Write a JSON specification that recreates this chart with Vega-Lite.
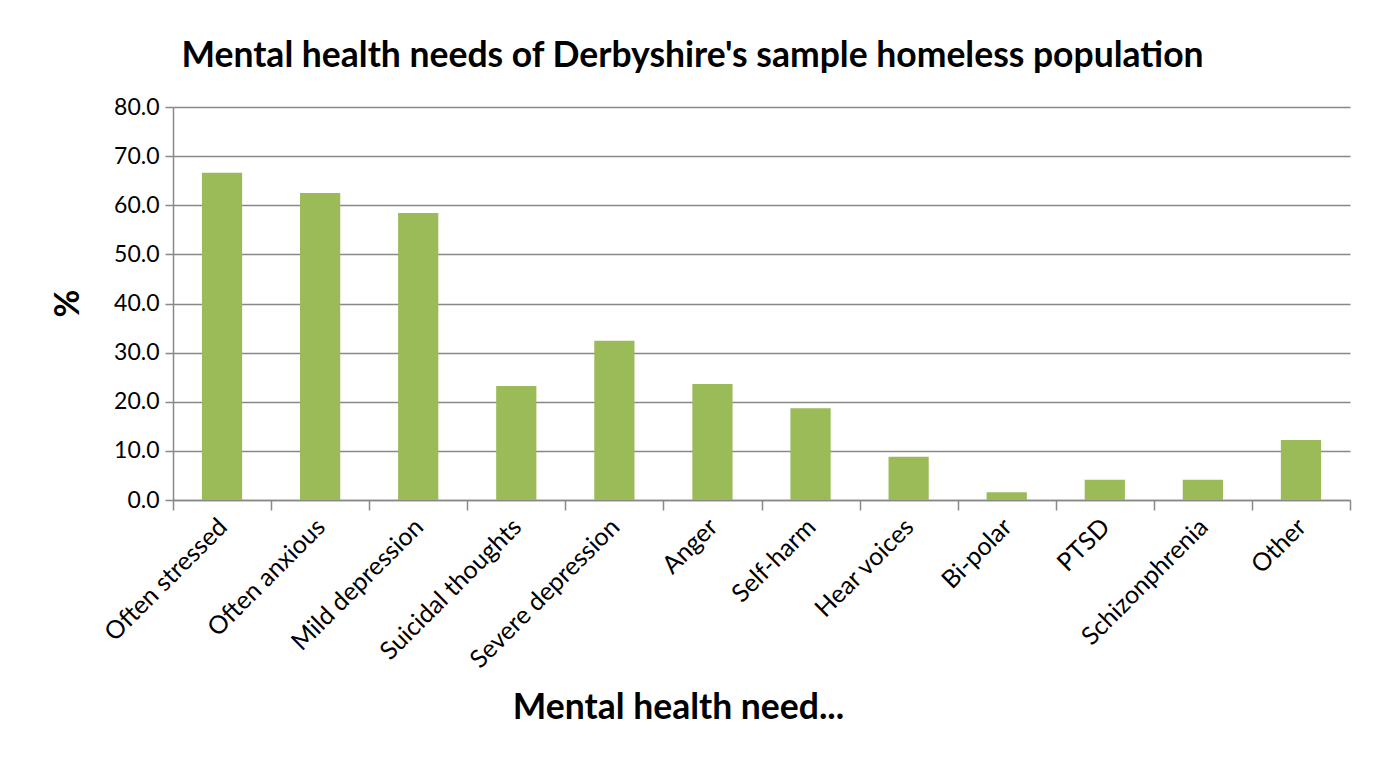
{
  "$schema": "https://vega.github.io/schema/vega-lite/v6.json",
  "width": 1177,
  "height": 393,
  "autosize": {"type": "none"},
  "padding": {"left": 173, "top": 107, "right": 33, "bottom": 262},
  "background": "white",
  "config": {"view": {"stroke": null}, "font": "Lato"},
  "title": {
    "text": "Mental health needs of  Derbyshire's sample homeless population",
    "font": "Lato",
    "fontSize": 35.5,
    "fontWeight": "bold",
    "color": "black",
    "anchor": "middle",
    "dx": -69,
    "offset": 22
  },
  "data": {
    "values": [
      {"need": "Often stressed", "pct": 66.6},
      {"need": "Often anxious", "pct": 62.5},
      {"need": "Mild depression", "pct": 58.4},
      {"need": "Suicidal thoughts", "pct": 23.2},
      {"need": "Severe depression", "pct": 32.4},
      {"need": "Anger", "pct": 23.6},
      {"need": "Self-harm", "pct": 18.7},
      {"need": "Hear voices", "pct": 8.8},
      {"need": "Bi-polar", "pct": 1.6},
      {"need": "PTSD", "pct": 4.1},
      {"need": "Schizonphrenia", "pct": 4.1},
      {"need": "Other", "pct": 12.2}
    ]
  },
  "mark": {"type": "bar", "color": "#9BBB59", "width": {"band": 0.41}},
  "encoding": {
    "x": {
      "field": "need",
      "type": "nominal",
      "sort": null,
      "scale": {"paddingInner": 0, "paddingOuter": 0},
      "axis": {
        "title": "Mental health need...",
        "titleFont": "Lato",
        "titleFontSize": 35.5,
        "titleFontWeight": "bold",
        "titleColor": "black",
        "titleX": 505,
        "titleY": 218,
        "titleBaseline": "alphabetic",
        "labelAngle": -45,
        "labelFont": "Lato",
        "labelFontSize": 25,
        "labelColor": "black",
        "labelPadding": 4,
        "labelOffset": -8,
        "labelLimit": 0,
        "tickBand": "extent",
        "ticks": true,
        "tickSize": 10,
        "tickColor": "#888888",
        "tickWidth": 1.5,
        "domainColor": "#888888",
        "domainWidth": 1.5,
        "grid": false
      }
    },
    "y": {
      "field": "pct",
      "type": "quantitative",
      "scale": {"domain": [0, 80], "nice": false},
      "axis": {
        "title": "%",
        "titleFont": "Lato",
        "titleFontSize": 34,
        "titleFontWeight": "bold",
        "titleColor": "black",
        "titleX": -105,
        "titleY": 196,
        "titleAlign": "center",
        "titleBaseline": "middle",
        "format": ".1f",
        "values": [0, 10, 20, 30, 40, 50, 60, 70, 80],
        "labelFont": "Lato",
        "labelFontSize": 23,
        "labelColor": "black",
        "labelPadding": 6,
        "tickSize": 8,
        "tickColor": "#888888",
        "tickWidth": 1.5,
        "domainColor": "#888888",
        "domainWidth": 1.5,
        "grid": true,
        "gridColor": "#888888",
        "gridWidth": 1.5
      }
    }
  }
}
